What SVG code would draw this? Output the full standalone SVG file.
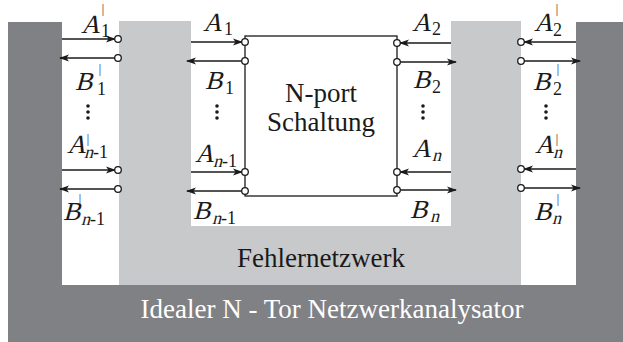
<svg xmlns="http://www.w3.org/2000/svg" width="623" height="342" viewBox="0 0 623 342">
<defs>
<style>
.dark{fill:#808184}
.light{fill:#c8c9cb}
.ln{stroke:#1a1a1a;stroke-width:1.3;fill:none}
.pt{fill:#fff;stroke:#1a1a1a;stroke-width:1.3}
.m{font-family:"Liberation Serif",serif;font-size:26px;fill:#1a1a1a}
.s{font-family:"Liberation Serif",serif;font-size:18px;fill:#1a1a1a}
.p{font-family:"Liberation Serif",serif;font-size:12px;fill:#1a1a1a;text-anchor:middle}
.t{font-family:"Liberation Serif",serif;font-size:27px;fill:#1a1a1a}
.dot{fill:#1a1a1a}
</style>
<marker id="ah" markerWidth="10" markerHeight="8" refX="9" refY="4" orient="auto" markerUnits="userSpaceOnUse">
<path d="M0,0.5 L10,4 L0,7.5 L2.5,4 Z" fill="#1a1a1a"/>
</marker>
</defs>
<g id="analyzer">
<path class="dark" d="M8,22 H62 V285 H576 V22 H623 V342 H8 Z"/>
<text x="332" y="318" text-anchor="middle" class="t" style="fill:#fff">Idealer N - Tor Netzwerkanalysator</text>
</g>
<g id="fehlernetzwerk">
<path class="light" d="M119,21 H191 V226 H451 V21 H521 V285 H119 Z"/>
<text x="321" y="267" text-anchor="middle" class="t">Fehlernetzwerk</text>
</g>
<g id="nport">
<rect x="245" y="36" width="152" height="160" fill="#eff0f2" class="ln"/>
<text x="321" y="102" text-anchor="middle" class="t">N-port</text>
<text x="321" y="131" text-anchor="middle" class="t">Schaltung</text>
</g>
<g id="connectors">
<line class="ln" x1="62" y1="39" x2="115" y2="39" marker-end="url(#ah)"/>
<line class="ln" x1="115" y1="58" x2="60" y2="58" marker-end="url(#ah)"/>
<line class="ln" x1="62" y1="170" x2="115" y2="170" marker-end="url(#ah)"/>
<line class="ln" x1="115" y1="189" x2="60" y2="189" marker-end="url(#ah)"/>
<line class="ln" x1="191" y1="42" x2="242" y2="42" marker-end="url(#ah)"/>
<line class="ln" x1="242" y1="61" x2="187" y2="61" marker-end="url(#ah)"/>
<line class="ln" x1="191" y1="172" x2="242" y2="172" marker-end="url(#ah)"/>
<line class="ln" x1="242" y1="191" x2="187" y2="191" marker-end="url(#ah)"/>
<line class="ln" x1="451" y1="43" x2="400" y2="43" marker-end="url(#ah)"/>
<line class="ln" x1="400" y1="62" x2="456" y2="62" marker-end="url(#ah)"/>
<line class="ln" x1="451" y1="172" x2="400" y2="172" marker-end="url(#ah)"/>
<line class="ln" x1="400" y1="190" x2="456" y2="190" marker-end="url(#ah)"/>
<line class="ln" x1="576" y1="42" x2="524" y2="42" marker-end="url(#ah)"/>
<line class="ln" x1="524" y1="61" x2="580" y2="61" marker-end="url(#ah)"/>
<line class="ln" x1="576" y1="169" x2="524" y2="169" marker-end="url(#ah)"/>
<line class="ln" x1="524" y1="188" x2="580" y2="188" marker-end="url(#ah)"/>
</g>
<g id="ports">
<circle class="pt" cx="118" cy="39" r="3.3"/>
<circle class="pt" cx="118" cy="58" r="3.3"/>
<circle class="pt" cx="118" cy="170" r="3.3"/>
<circle class="pt" cx="118" cy="189" r="3.3"/>
<circle class="pt" cx="245" cy="42" r="3.3"/>
<circle class="pt" cx="245" cy="61" r="3.3"/>
<circle class="pt" cx="245" cy="172" r="3.3"/>
<circle class="pt" cx="245" cy="191" r="3.3"/>
<circle class="pt" cx="397" cy="43" r="3.3"/>
<circle class="pt" cx="397" cy="62" r="3.3"/>
<circle class="pt" cx="397" cy="172" r="3.3"/>
<circle class="pt" cx="397" cy="190" r="3.3"/>
<circle class="pt" cx="521" cy="42" r="3.3"/>
<circle class="pt" cx="521" cy="61" r="3.3"/>
<circle class="pt" cx="521" cy="169" r="3.3"/>
<circle class="pt" cx="521" cy="188" r="3.3"/>
</g>
<g id="labels">
<!-- outer left -->
<text class="m" transform="translate(81,33) skewX(-15)">A</text>
<text class="p" x="103" y="12.5">|</text>
<text class="s" x="101" y="37">1</text>

<text class="m" transform="translate(75,90) skewX(-15)">B</text>
<text class="p" x="100" y="72.5">|</text>
<text class="s" x="97" y="95">1</text>

<text class="m" transform="translate(67,153) skewX(-15)">A</text>
<text class="p" x="88" y="142.5">|</text>
<text class="s" transform="translate(84,158) skewX(-15)">n</text>
<text class="s" x="93" y="158">-1</text>

<text class="m" transform="translate(63,220) skewX(-15)">B</text>
<text class="p" x="80" y="202.5">|</text>
<text class="s" transform="translate(81,225) skewX(-15)">n</text>
<text class="s" x="90" y="225">-1</text>

<!-- inner left -->
<text class="m" transform="translate(203,31) skewX(-15)">A</text>
<text class="s" x="224" y="35">1</text>

<text class="m" transform="translate(205,89) skewX(-15)">B</text>
<text class="s" x="225" y="94">1</text>

<text class="m" transform="translate(195,162) skewX(-15)">A</text>
<text class="s" transform="translate(213,167) skewX(-15)">n</text>
<text class="s" x="222" y="167">-1</text>

<text class="m" transform="translate(193,219) skewX(-15)">B</text>
<text class="s" transform="translate(212,224) skewX(-15)">n</text>
<text class="s" x="221" y="224">-1</text>

<!-- inner right -->
<text class="m" transform="translate(412,31) skewX(-15)">A</text>
<text class="s" x="432" y="35">2</text>

<text class="m" transform="translate(413,88) skewX(-15)">B</text>
<text class="s" x="432" y="93">2</text>

<text class="m" transform="translate(412,157) skewX(-15)">A</text>
<text class="s" transform="translate(432,161) skewX(-15)">n</text>

<text class="m" transform="translate(410,218) skewX(-15)">B</text>
<text class="s" transform="translate(430,222) skewX(-15)">n</text>

<!-- outer right -->
<text class="m" transform="translate(534,31) skewX(-15)">A</text>
<text class="p" x="557" y="12.5">|</text>
<text class="s" x="553" y="36">2</text>

<text class="m" transform="translate(533,90) skewX(-15)">B</text>
<text class="p" x="558" y="72.5">|</text>
<text class="s" x="553" y="95">2</text>

<text class="m" transform="translate(535,153) skewX(-15)">A</text>
<text class="p" x="557" y="142.5">|</text>
<text class="s" transform="translate(553,158) skewX(-15)">n</text>

<text class="m" transform="translate(534,220) skewX(-15)">B</text>
<text class="p" x="558" y="202.5">|</text>
<text class="s" transform="translate(552,224) skewX(-15)">n</text>
</g>
<g id="dots">
<circle class="dot" cx="88" cy="106" r="1.8"/><circle class="dot" cx="88" cy="112" r="1.8"/><circle class="dot" cx="88" cy="118" r="1.8"/>
<circle class="dot" cx="217" cy="106" r="1.8"/><circle class="dot" cx="217" cy="112" r="1.8"/><circle class="dot" cx="217" cy="118" r="1.8"/>
<circle class="dot" cx="423" cy="106" r="1.8"/><circle class="dot" cx="423" cy="112" r="1.8"/><circle class="dot" cx="423" cy="118" r="1.8"/>
<circle class="dot" cx="546" cy="106" r="1.8"/><circle class="dot" cx="546" cy="112" r="1.8"/><circle class="dot" cx="546" cy="118" r="1.8"/>
</g>
</svg>
